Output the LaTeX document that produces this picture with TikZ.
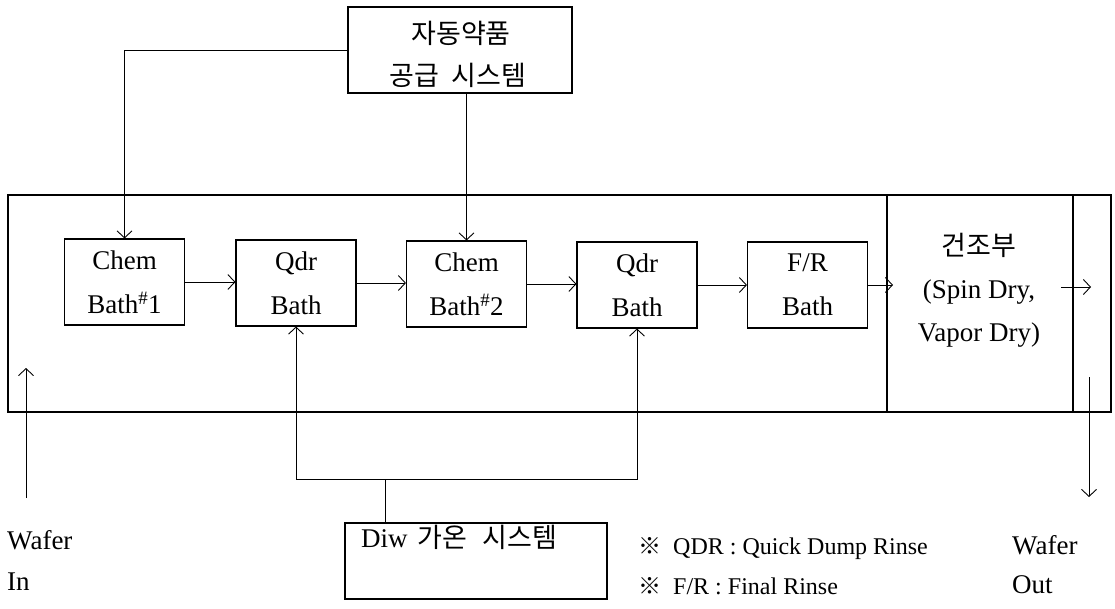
\documentclass[tikz,border=0pt]{standalone}
\usepackage{fontspec}
\setmainfont{Liberation Serif}
\newfontfamily\kr{Noto Sans CJK KR}
\newcommand\krf{\kr\fontsize{27}{30}\selectfont}
\usetikzlibrary{arrows.meta}
\begin{document}
\begin{tikzpicture}[x=1pt,y=-1pt,
  bx/.style={draw, line width=1.1pt, minimum width=120pt, minimum height=86pt, inner sep=0pt, align=center, font=\fontsize{27}{44}\selectfont},
  frame/.style={draw, line width=1.1pt},
  conn/.style={line width=0.9pt},
  arr/.style={conn, -{Straight Barb[length=7pt,width=15pt]}},
  lbl/.style={inner sep=0pt, font=\fontsize{27}{30}\selectfont},
  note/.style={inner sep=0pt, anchor=base west, font=\fontsize{24}{28}\selectfont}]
\useasboundingbox (0,0) rectangle (1115,609);

% supply box
\node[frame, minimum width=224pt, minimum height=86pt, inner sep=0pt] (sup) at (460,50) {};
\node[inner sep=0pt, font=\krf] (supA) at (461,33) {자동약품};
\node[inner sep=0pt, font=\krf] (supB) at (458,75) {공급\hspace{6pt} 시스템};

% main frame
\draw[frame] (8,195) rectangle (1111,412);
\draw[frame] (887,195) -- (887,412);
\draw[frame] (1073,195) -- (1073,412);

% baths
\node[bx] (chema) at (124.5,282) {Chem\\Bath\textsuperscript{\#}1};
\node[bx] (qdra)  at (296,283) {Qdr\\Bath};
\node[bx] (chemb) at (466.5,284) {Chem\\Bath\textsuperscript{\#}2};
\node[bx] (qdrb)  at (637,285) {Qdr\\Bath};
\node[bx] (fr)    at (807.5,285) {F/R\\Bath};

% drying
\node[inner sep=0pt, align=center, font=\fontsize{27}{43}\selectfont] (dry) at (979,290) {{\krf 건조부}\\(Spin Dry,\\Vapor Dry)};

% flow arrows
\draw[arr] (chema.east) -- (chema.east -| qdra.west);
\draw[arr] (qdra.east) -- (qdra.east -| chemb.west);
\draw[arr] (chemb.east) -- (chemb.east -| qdrb.west);
\draw[arr] (qdrb.east) -- (qdrb.east -| fr.west);
\coordinate (dryin) at (893,285);
\draw[arr] (fr.east) -- (dryin);
\coordinate (o1) at (1061,287);
\coordinate (o2) at (1091,287);
\draw[arr] (o1) -- (o2);

% supply connectors
\draw[arr] (sup.west) -| (chema.north);
\draw[arr] (sup.south -| chemb.north) -- (chemb.north);

% DIW system
\node[frame, minimum width=262pt, minimum height=76pt, inner sep=0pt] (diw) at (476,561) {};
\node[lbl] (diwl) at (459,537) {Diw\hspace{10pt}{\krf 가온\hspace{9pt} 시스템}};
\coordinate (dj) at (385,479);
\draw[conn] (diw.north -| dj) -- (dj);
\draw[arr] (dj) -| (qdra.south);
\draw[arr] (dj) -| (qdrb.south);

% wafer in / out
\coordinate (win0) at (26,498);
\coordinate (win1) at (26,368);
\draw[arr] (win0) -- (win1);
\node[lbl, anchor=base west] (wina) at (7,549) {Wafer};
\node[lbl, anchor=base west] (winb) at (7,590) {In};
\coordinate (wout0) at (1089,377);
\coordinate (wout1) at (1089,497);
\draw[arr] (wout0) -- (wout1);
\node[lbl, anchor=base west] (wouta) at (1012,554) {Wafer};
\node[lbl, anchor=base west] (woutb) at (1012,593) {Out};

% notes
\node[note] (n1) at (638,554) {{\kr\fontsize{23}{28}\selectfont ※}\ \ QDR : Quick Dump Rinse};
\node[note] (n2) at (638,594) {{\kr\fontsize{23}{28}\selectfont ※}\ \ F/R : Final Rinse};
\end{tikzpicture}
\end{document}
